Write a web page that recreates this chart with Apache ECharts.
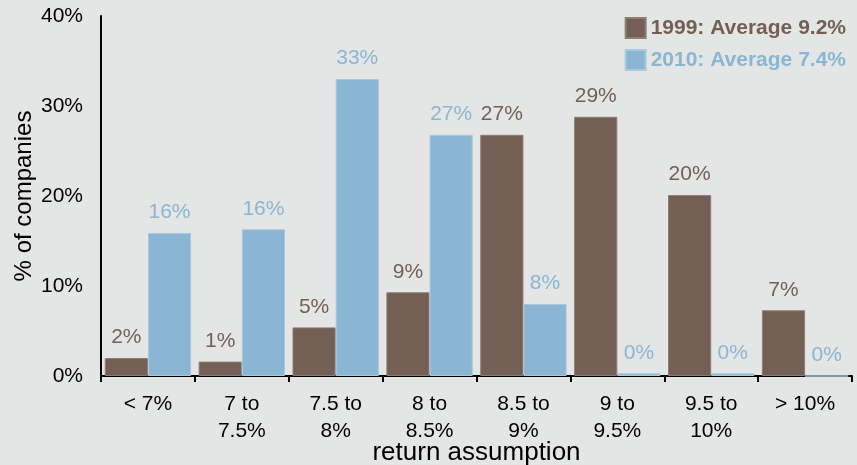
<!DOCTYPE html>
<html>
<head>
<meta charset="utf-8">
<script src="https://cdn.jsdelivr.net/npm/echarts@6/dist/echarts.min.js"></script>
<style>
  html, body { margin: 0; padding: 0; background: #e4e6e5; }
  #main { width: 857px; height: 465px; }
</style>
</head>
<body>
<div id="main"></div>
<script>
  var categorias = ['< 7%', '7 to\n7.5%', '7.5 to\n8%', '8 to\n8.5%', '8.5 to\n9%', '9 to\n9.5%', '9.5 to\n10%', '> 10%']
  var valores1999 = [2.0, 1.6, 5.4, 9.3, 26.8, 28.8, 20.1, 7.3]
  var valores2010 = [15.9, 16.3, 33.0, 26.8, 8.0, 0.3, 0.3, 0]
  var etiquetas1999 = ['2%', '1%', '5%', '9%', '27%', '29%', '20%', '7%']
  var etiquetas2010 = ['16%', '16%', '33%', '27%', '8%', '0%', '0%', '0%']
  var ticksY = [0, 10, 20, 30, 40]

  var marron = '#735f53'
  var azul = '#8ab6d3'

  var myChart = echarts.init(document.getElementById('main'))

  option = {
    backgroundColor: '#e4e6e5',
    textStyle: { fontFamily: 'Liberation Sans, Arial, sans-serif' },
    legend: {
      right: 6,
      top: 12,
      orient: 'vertical',
      itemWidth: 20,
      itemHeight: 20,
      itemGap: 10,
      icon: 'rect',
      textStyle: { fontSize: 21, fontWeight: 'bold', padding: [0, 0, 0, 0] },
      data: [
        { name: '1999: Average 9.2%', textStyle: { color: marron } },
        { name: '2010: Average 7.4%', textStyle: { color: azul } }
      ]
    },
    grid: { left: 101, right: 5, top: 16, bottom: 89, containLabel: false, outerBoundsMode: 'none' },
    xAxis: {
      type: 'category',
      data: categorias,
      name: 'return assumption',
      nameLocation: 'middle',
      nameGap: 64,
      nameMoveOverlap: false,
      nameTextStyle: { fontSize: 26, color: '#000' },
      axisLine: { lineStyle: { color: '#000', width: 2 } },
      axisTick: { show: true, length: 6, alignWithLabel: false, lineStyle: { color: '#000', width: 2 } },
      axisLabel: { color: '#000', fontSize: 21, lineHeight: 27, margin: 15 }
    },
    yAxis: {
      type: 'value',
      min: 0,
      max: 40,
      interval: 10,
      name: '% of companies',
      nameLocation: 'middle',
      nameGap: 65,
      nameMoveOverlap: false,
      nameTextStyle: { fontSize: 24, color: '#000' },
      splitLine: { show: false },
      axisLine: { show: true, lineStyle: { color: '#000', width: 2 } },
      axisTick: { show: false },
      axisLabel: {
        color: '#000',
        fontSize: 21,
        margin: 18,
        formatter: function (v) { return ticksY.indexOf(v) >= 0 ? v + '%' : '' }
      }
    },
    series: [
      {
        name: '1999: Average 9.2%',
        type: 'bar',
        data: valores1999,
        barGap: '0%',
        barCategoryGap: '8%',
        itemStyle: { color: marron, borderColor: '#8d7d73', borderWidth: 1 },
        label: {
          show: true,
          position: 'top',
          distance: 10,
          color: marron,
          fontSize: 21,
          formatter: function (p) { return etiquetas1999[p.dataIndex] }
        }
      },
      {
        name: '2010: Average 7.4%',
        type: 'bar',
        data: valores2010,
        itemStyle: { color: azul, borderColor: '#a8c8de', borderWidth: 1 },
        label: {
          show: true,
          position: 'top',
          distance: 10,
          color: azul,
          fontSize: 21,
          formatter: function (p) { return etiquetas2010[p.dataIndex] }
        }
      }
    ]
  }

  myChart.setOption(option)
</script>
</body>
</html>
